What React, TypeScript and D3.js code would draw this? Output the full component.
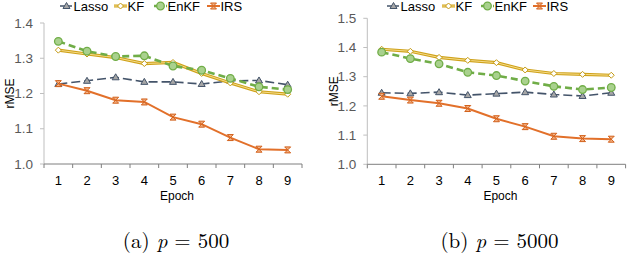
import React from "react";
import * as d3 from "d3";

const epochs = [1, 2, 3, 4, 5, 6, 7, 8, 9];
const seriesNames = ["Lasso", "KF", "EnKF", "IRS"];

const lassoA = [1.227, 1.236, 1.246, 1.233, 1.233, 1.227, 1.236, 1.237, 1.225];
const kfA = [1.323, 1.312, 1.302, 1.285, 1.288, 1.257, 1.23, 1.205, 1.198];
const enkfA = [1.348, 1.32, 1.305, 1.307, 1.278, 1.266, 1.243, 1.219, 1.211];
const irsA = [1.228, 1.208, 1.181, 1.176, 1.133, 1.113, 1.075, 1.042, 1.04];

const lassoB = [1.245, 1.243, 1.247, 1.237, 1.242, 1.247, 1.239, 1.234, 1.245];
const kfB = [1.394, 1.387, 1.366, 1.356, 1.348, 1.323, 1.311, 1.308, 1.305];
const enkfB = [1.384, 1.362, 1.344, 1.315, 1.304, 1.285, 1.267, 1.256, 1.263];
const irsB = [1.233, 1.22, 1.209, 1.191, 1.156, 1.129, 1.096, 1.088, 1.086];

const ticksA = [1.0, 1.1, 1.2, 1.3, 1.4];
const ticksB = [1.0, 1.1, 1.2, 1.3, 1.4, 1.5];

const font = "'Liberation Sans', Arial, sans-serif";

type Style = {
  color: string;
  width: number;
  dash?: string;
  marker: string;
};

const styles: Record<string, Style> = {
  Lasso: { color: "#44546A", width: 1.6, dash: "9,4", marker: "tri" },
  KF: { color: "#CFA21A", width: 3, marker: "diamond" },
  EnKF: { color: "#70AD47", width: 2.6, dash: "7,4", marker: "circle" },
  IRS: { color: "#E2702A", width: 2, marker: "hour" },
};

function Marker({ type, x, y }: { type: string; x: number; y: number }) {
  if (type === "tri") {
    return (
      <path
        d={`M${x},${y - 3.5}L${x + 3.5},${y + 2.5}L${x - 3.5},${y + 2.5}Z`}
        fill="#A6A6A6"
        stroke="#44546A"
        strokeWidth={1}
      />
    );
  }
  if (type === "diamond") {
    return (
      <path
        d={`M${x},${y - 3}L${x + 3},${y}L${x},${y + 3}L${x - 3},${y}Z`}
        fill="#ffffff"
        stroke="#C49A12"
        strokeWidth={1}
      />
    );
  }
  if (type === "circle") {
    return <circle cx={x} cy={y} r={3.8} fill="#A9D18E" stroke="#70AD47" strokeWidth={1.3} />;
  }
  return (
    <path
      d={`M${x - 3},${y - 3}L${x + 3},${y - 3}L${x - 3},${y + 3}L${x + 3},${y + 3}Z`}
      fill="#F4B183"
      stroke="#D2601A"
      strokeWidth={1}
    />
  );
}

function Panel({
  x0,
  x1,
  yTop,
  yBot,
  yMax,
  ticks,
  data,
  legendX,
  caption,
}: {
  x0: number;
  x1: number;
  yTop: number;
  yBot: number;
  yMax: number;
  ticks: number[];
  data: number[][];
  legendX: number[];
  caption: [string, string];
}) {
  const xb = d3.scaleBand<number>().domain(epochs).range([x0, x1]);
  const xs = (e: number) => (xb(e) as number) + xb.bandwidth() / 2;
  const ys = d3.scaleLinear().domain([1.0, yMax]).range([yBot, yTop]);
  const line = d3
    .line<number>()
    .x((_, i) => xs(epochs[i]))
    .y((d) => ys(d));
  const bounds = epochs.map((e) => xb(e) as number).concat([x1]);
  const cx = (x0 + x1) / 2;
  const ly = 6;
  return (
    <g>
      {/* y axis */}
      <line x1={x0} x2={x0} y1={ys(yMax)} y2={yBot} stroke="#BFBFBF" strokeWidth={1} />
      {ticks.map((t) => (
        <g key={t}>
          <line x1={x0 - 4} x2={x0} y1={ys(t)} y2={ys(t)} stroke="#BFBFBF" />
          <text
            x={x0 - 11}
            y={ys(t)}
            dy="0.35em"
            textAnchor="end"
            fontSize={13.5}
            fill="#595959"
            fontFamily={font}
          >
            {d3.format(".1f")(t)}
          </text>
        </g>
      ))}
      {/* x axis */}
      <line x1={x0} x2={x1} y1={yBot} y2={yBot} stroke="#7F7F7F" strokeWidth={1} />
      {bounds.map((b, i) => (
        <line key={i} x1={b} x2={b} y1={yBot} y2={yBot + 4} stroke="#7F7F7F" />
      ))}
      {epochs.map((e) => (
        <text
          key={e}
          x={xs(e)}
          y={180}
          dy="0.35em"
          textAnchor="middle"
          fontSize={13}
          fill="#000"
          fontFamily={font}
        >
          {e}
        </text>
      ))}
      <text x={cx + 4} y={196} dy="0.35em" textAnchor="middle" fontSize={12} fontFamily={font}>
        Epoch
      </text>
      <text
        transform={`translate(${x0 - 34},${(yTop + yBot) / 2}) rotate(-90)`}
        textAnchor="middle"
        dy="0.35em"
        fontSize={12}
        fontFamily={font}
      >
        rMSE
      </text>
      {/* series */}
      {seriesNames.map((name, si) => {
        const st = styles[name];
        const vals = data[si];
        return (
          <g key={name}>
            {name === "KF" ? (
              <>
                <path d={line(vals) || ""} fill="none" stroke="#CFA21A" strokeWidth={3.2} />
                <path d={line(vals) || ""} fill="none" stroke="#F6DC8A" strokeWidth={1} />
              </>
            ) : (
              <path
                d={line(vals) || ""}
                fill="none"
                stroke={st.color}
                strokeWidth={st.width}
                strokeDasharray={st.dash}
              />
            )}
            {vals.map((v, i) => (
              <Marker key={i} type={st.marker} x={xs(epochs[i])} y={ys(v)} />
            ))}
          </g>
        );
      })}
      {/* legend */}
      {seriesNames.map((name, si) => {
        const st = styles[name];
        const lx = legendX[si];
        return (
          <g key={name}>
            {name === "KF" ? (
              <>
                <line x1={lx} x2={lx + 13} y1={ly} y2={ly} stroke="#CFA21A" strokeWidth={3} />
                <line x1={lx} x2={lx + 13} y1={ly} y2={ly} stroke="#F6DC8A" strokeWidth={1} />
              </>
            ) : (
              <line
                x1={lx}
                x2={lx + 13}
                y1={ly}
                y2={ly}
                stroke={st.color}
                strokeWidth={st.width}
                strokeDasharray={name === "Lasso" ? "5,2" : name === "EnKF" ? "4,2" : undefined}
              />
            )}
            <Marker type={st.marker} x={lx + 6.5} y={ly} />
            <text x={lx + 13.5} y={ly} dy="0.35em" fontSize={13} fontFamily={font}>
              {name}
            </text>
          </g>
        );
      })}
      {/* caption */}
      <text
        x={cx + 3}
        y={248}
        textAnchor="middle"
        fontSize={21}
        fontFamily="'Latin Modern Roman', 'CMU Serif', 'Liberation Serif', serif"
      >
        <tspan>{caption[0]} </tspan>
        <tspan fontStyle="italic">p</tspan>
        <tspan> = {caption[1]}</tspan>
      </text>
    </g>
  );
}

export default function App() {
  return (
    <svg width={628} height={264} style={{ position: "absolute", left: 0, top: 0, background: "#fff" }}>
      <rect x={0} y={0} width={628} height={264} fill="#fff" />
      <Panel
        x0={44}
        x1={302}
        yTop={23}
        yBot={164}
        yMax={1.4}
        ticks={ticksA}
        data={[lassoA, kfA, enkfA, irsA]}
        legendX={[60, 114, 154, 207]}
        caption={["(a)", "500"]}
      />
      <Panel
        x0={367.3}
        x1={625.6}
        yTop={18.3}
        yBot={164.3}
        yMax={1.5}
        ticks={ticksB}
        data={[lassoB, kfB, enkfB, irsB]}
        legendX={[387, 442, 481, 533]}
        caption={["(b)", "5000"]}
      />
    </svg>
  );
}
